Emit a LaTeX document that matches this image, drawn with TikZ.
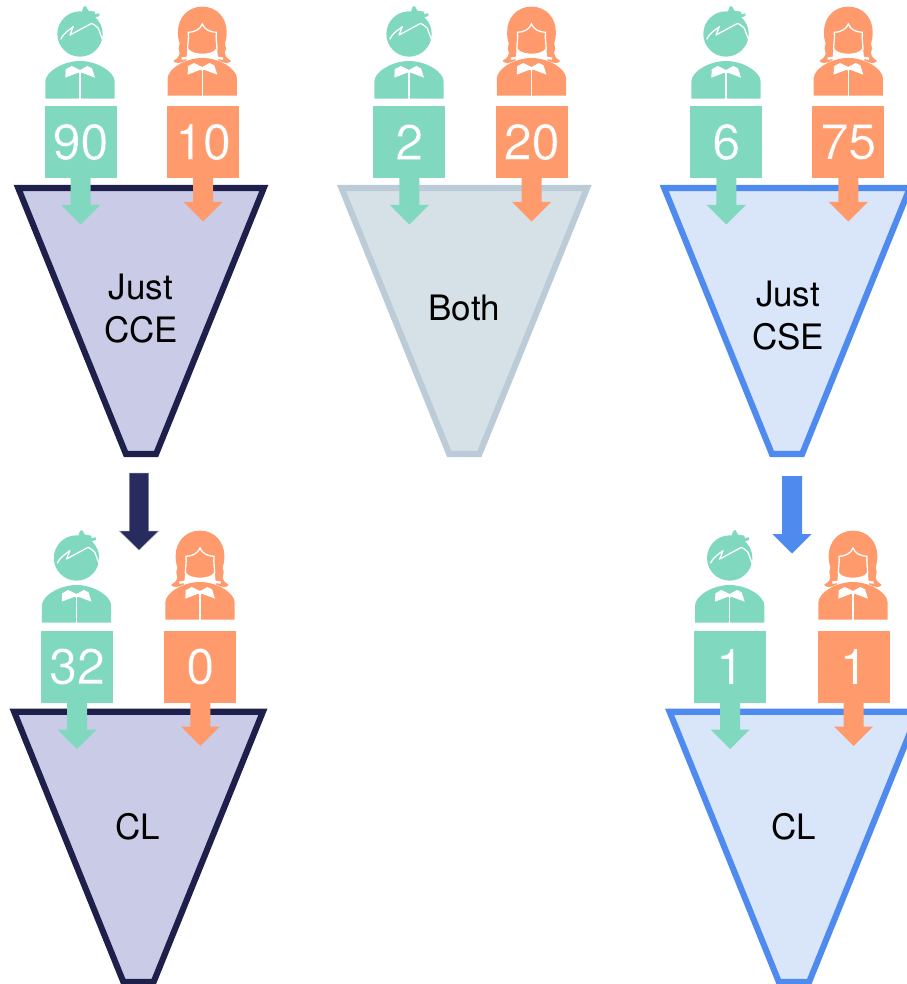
\documentclass[tikz,border=0pt]{standalone}
\usepackage{fontspec}
\setmainfont{TeX Gyre Heros}
\newfontfamily\numfont[FakeBold=0.6]{TeX Gyre Heros}
\definecolor{mgreen}{HTML}{80D8BE}
\definecolor{morange}{HTML}{FF9A6C}
\definecolor{navyfill}{HTML}{CACCE7}
\definecolor{navyline}{HTML}{1E1F4B}
\definecolor{navyarrow}{HTML}{272B5E}
\definecolor{greyfill}{HTML}{D6E0E7}
\definecolor{greyline}{HTML}{BBCBD7}
\definecolor{bluefill}{HTML}{D9E5F9}
\definecolor{blueline}{HTML}{4F8BEF}
\newcommand{\gnum}[1]{\special{pdf:code 0.502 0.847 0.745 RG}#1}
\newcommand{\onum}[1]{\special{pdf:code 1 0.604 0.424 RG}#1}
\tikzset{
  numbox/.style={minimum size=72pt,inner sep=0pt,outer sep=0pt,text=white,font=\numfont\fontsize{50}{50}\selectfont},
  manbox/.style={numbox,fill=mgreen},
  womanbox/.style={numbox,fill=morange},
  funnelnavy/.style={fill=navyfill,draw=navyline,line width=6.1pt,miter limit=10},
  funnelgrey/.style={fill=greyfill,draw=greyline,line width=6.1pt,miter limit=10},
  funnelblue/.style={fill=bluefill,draw=blueline,line width=6.1pt,miter limit=10},
  funneltext/.style={align=center,text=black,font=\fontsize{35}{43}\selectfont,inner sep=0pt},
}
% #1 cx, #2 top y of centre line, #3 bottom y, #4 top half width, #5 style
\newcommand{\funnelshape}[5]{%
  \path[#5] (#1-#4,#2) -- (#1+#4,#2) -- (#1+15.1,#3) -- (#1-15.1,#3) -- cycle;}
% bust; #1 colour, #2 vertical shift
\newcommand{\bustshape}[2]{%
  \begin{scope}[yshift=#2]
  \fill[#1] (-104,296) -- (-104,245) .. controls (-104,215) and (-50,183) .. (0,183)
     .. controls (50,183) and (104,215) .. (104,245) -- (104,296) -- cycle;
  \fill[white] (-43,208) -- (-25,198) -- (0,210) -- (22,198) -- (36,205) -- (45,233)
     -- (5,218) -- (0,222) -- (-5,218) -- (-44,233) -- cycle;
  \draw[white,line width=1.3pt] (0,215) -- (0,296);
  \end{scope}}
\newcommand{\manicon}[2]{%
  \begin{scope}[shift={(#1,#2)},x=.3333pt,y=-.3333pt]
  \fill[mgreen] (0,102) circle[radius=68];
  \fill[mgreen] (5,38) -- (10,22) -- (17,18) -- (25,32) -- (45,35) -- (45,42) -- (58,40) -- (58,48) -- (35,56) -- (5,50) -- cycle;
  \draw[white,line width=1.3pt,line join=round] (-58,118) .. controls (-50,100) and (-35,92) .. (-20,80) -- (-30,105) -- (35,70) .. controls (45,75) and (50,80) .. (55,85) -- (68,120);
  \bustshape{mgreen}{0pt}
  \end{scope}}
\newcommand{\womanicon}[2]{%
  \begin{scope}[shift={(#1,#2)},x=.3333pt,y=-.3333pt]
  \fill[morange] (0,20) .. controls (45,20) and (73,55) .. (73,95)
     .. controls (73,110) and (72,120) .. (68,130)
     .. controls (72,140) and (72,150) .. (68,160)
     .. controls (70,172) and (78,178) .. (86,183)
     .. controls (80,192) and (65,190) .. (50,182) -- (-50,182)
     .. controls (-65,190) and (-80,192) .. (-87,183)
     .. controls (-78,178) and (-70,172) .. (-68,160)
     .. controls (-72,150) and (-72,140) .. (-68,130)
     .. controls (-72,120) and (-73,110) .. (-73,95)
     .. controls (-73,55) and (-45,20) .. (0,20) -- cycle;
  \fill[white] (-44,140) -- (-48,185) -- (48,185) -- (44,140) -- cycle;
  \path[fill=morange,draw=white,line width=1.3pt] (0,72) .. controls (5,88) and (25,97) .. (42,97)
     .. controls (40,115) and (44,130) .. (44,147)
     .. controls (35,160) and (15,163) .. (0,163)
     .. controls (-15,163) and (-35,160) .. (-44,147)
     .. controls (-44,130) and (-40,115) .. (-42,97)
     .. controls (-25,97) and (-5,88) .. (0,72) -- cycle;
  \path[draw=white,line width=2.4pt] (-62,176) .. controls (-40,172) and (-20,172) .. (0,172) .. controls (20,172) and (40,172) .. (62,176);
  \bustshape{morange}{3pt}
  \end{scope}}
% block arrow below a box; #1 colour, #2 box node, #3 head start below box
\newcommand{\boxarrow}[3]{%
  \fill[#1] (#2.south) ++(-10,0) -- ++(0,#3) -- ++(-9.5,0) -- ++(19.5,19.5) -- ++(19.5,-19.5) -- ++(-9.5,0) -- ++(0,-#3) -- cycle;}
\begin{document}
\begin{tikzpicture}[x=1pt,y=-1pt]
\useasboundingbox (0,0) rectangle (906,984);
% funnels
\funnelshape{141}{188}{454}{122.8}{funnelnavy}
\funnelshape{464.3}{188}{454}{122.8}{funnelgrey}
\funnelshape{787}{188}{454}{122.8}{funnelblue}
\funnelshape{138.5}{711.75}{982}{124.4}{funnelnavy}
\funnelshape{794}{711.75}{982}{124.4}{funnelblue}
\node[funneltext] (t1) at (141,309) {Just\\CCE};
\node[funneltext] (t2) at (464.3,308) {Both};
\node[funneltext] (t3) at (788,316) {Just\\CSE};
\node[funneltext] (t4) at (138,827) {CL};
\node[funneltext] (t5) at (794,827) {CL};
% top row
\manicon{80}{0}
\womanicon{202.3}{0}
\node[manbox] (a1) at (80.5,142) {\gnum{90}};
\node[womanbox] (b1) at (203,142) {\onum{10}};
\boxarrow{mgreen}{a1}{27}
\boxarrow{morange}{b1}{24}
\manicon{409}{0}
\womanicon{531.5}{0}
\node[manbox] (a2) at (409.3,142) {\gnum{2}};
\node[womanbox] (b2) at (531.7,142) {\onum{20}};
\boxarrow{mgreen}{a2}{27}
\boxarrow{morange}{b2}{24}
\manicon{726}{0}
\womanicon{848.3}{0}
\node[manbox] (a3) at (726.3,142) {\gnum{6}};
\node[womanbox] (b3) at (848.3,142) {\onum{75}};
\boxarrow{mgreen}{a3}{27}
\boxarrow{morange}{b3}{24}
% bottom row
\manicon{76.5}{524}
\womanicon{200}{524}
\node[manbox] (a4) at (77,666.5) {\gnum{32}};
\node[womanbox] (b4) at (200.3,666.5) {\onum{0}};
\boxarrow{mgreen}{a4}{27}
\boxarrow{morange}{b4}{24}
\manicon{729.7}{524}
\womanicon{853}{524}
\node[manbox] (a5) at (730,666.5) {\gnum{1}};
\node[womanbox] (b5) at (853.7,666.5) {\onum{1}};
\boxarrow{mgreen}{a5}{27}
\boxarrow{morange}{b5}{24}
% arrows between funnels
\path[fill=navyarrow,draw=black!45,line width=.5pt] (129.3,473) -- (148.7,473) -- (148.7,531) -- (158.5,531) -- (139,550) -- (119.5,531) -- (129.3,531) -- cycle;
\fill[blueline] (782,476) -- (802,476) -- (802,534) -- (811.7,534) -- (792,553.5) -- (772.3,534) -- (782,534) -- cycle;
\end{tikzpicture}
\end{document}
